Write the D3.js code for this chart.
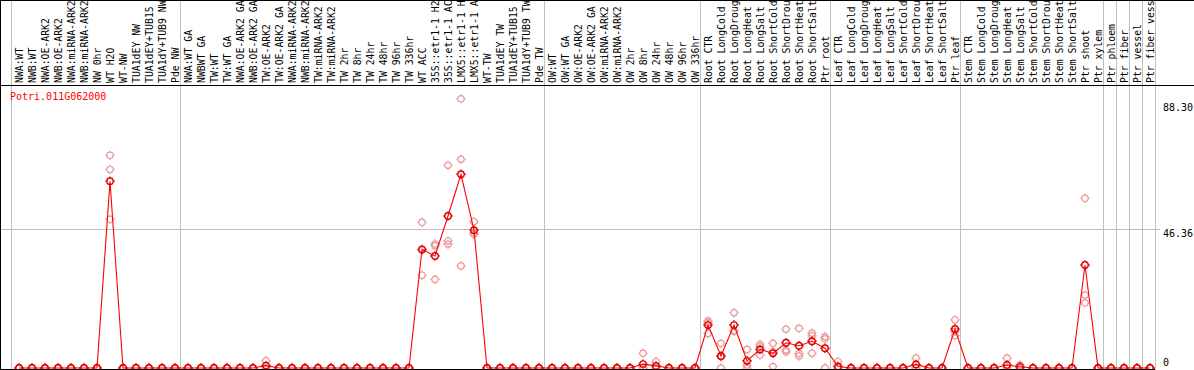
<!DOCTYPE html>
<meta charset="utf-8">

<!-- Load d3.js -->
<script src="https://d3js.org/d3.v7.min.js"></script>

<style>
  body { margin: 0; background: #fff; }
  svg text { font-family: "DejaVu Sans Mono", monospace; font-size: 10px; }
</style>

<div id="my_dataviz"></div>
<script>
  // gene shown
  const geneName = "Potri.011G062000";

  // sample names, left to right
  const samples = [
    "NWA:WT", "NWB:WT", "NWA:OE-ARK2", "NWB:OE-ARK2", "NWA:miRNA-ARK2", "NWB:miRNA-ARK2",
    "NW 0hr", "WT H2O", "WT-NW", "TUA1dEY NW", "TUA1dEY+TUB15 NW", "TUA1dY+TUB9 NW", "Pde NW",
    "NWA:WT GA", "NWBWT GA", "TW:WT", "TW:WT GA", "NWA:OE-ARK2 GA", "NWB:OE-ARK2 GA",
    "TW:OE-ARK2", "TW:OE-ARK2 GA", "NWA:miRNA-ARK2 GA", "NWB:miRNA-ARK2 GA", "TW:miRNA-ARK2",
    "TW:miRNA-ARK2 GA", "TW 2hr", "TW 8hr", "TW 24hr", "TW 48hr", "TW 96hr", "TW 336hr",
    "WT ACC", "35S::etr1-1 H2O", "35S::etr1-1 ACC", "LMX5::etr1-1 H2O", "LMX5::etr1-1 ACC",
    "WT-TW", "TUA1dEY TW", "TUA1dEY+TUB15 TW", "TUA1dY+TUB9 TW", "Pde TW",
    "OW:WT", "OW:WT GA", "OW:OE-ARK2", "OW:OE-ARK2 GA", "OW:miRNA-ARK2", "OW:miRNA-ARK2 GA",
    "OW 2hr", "OW 8hr", "OW 24hr", "OW 48hr", "OW 96hr", "OW 336hr",
    "Root CTR", "Root LongCold", "Root LongDrought", "Root LongHeat", "Root LongSalt",
    "Root ShortCold", "Root ShortDrought", "Root ShortHeat", "Root ShortSalt", "Ptr root",
    "Leaf CTR", "Leaf LongCold", "Leaf LongDrought", "Leaf LongHeat", "Leaf LongSalt",
    "Leaf ShortCold", "Leaf ShortDrought", "Leaf ShortHeat", "Leaf ShortSalt", "Ptr leaf",
    "Stem CTR", "Stem LongCold", "Stem LongDrought", "Stem LongHeat", "Stem LongSalt",
    "Stem ShortCold", "Stem ShortDrought", "Stem ShortHeat", "Stem ShortSalt", "Ptr shoot", "Ptr xylem",
    "Ptr phloem", "Ptr fiber", "Ptr vessel", "Ptr fiber vessel"
  ];

  // how many samples in each experiment block
  const groupSizes = [13, 28, 12, 10, 10, 11, 1, 1, 1, 1];

  // mean expression per sample
  const means = [
    0, 0, 0, 0, 0, 0, 0, 62.2, 0, 0, 0, 0, 0,
    0, 0, 0, 0, 0, 0, 0.8, 0, 0, 0, 0, 0, 0, 0, 0, 0, 0, 0,
    39.5, 37.3, 50.6, 64.5, 45.9, 0, 0, 0, 0, 0,
    0, 0, 0, 0, 0, 0, 0, 1.3, 0.7, 0, 0, 0,
    14.3, 4.0, 14.3, 2.4, 6.2, 4.9, 8.4, 7.4, 8.9, 6.6,
    0.5, 0, 0, 0, 0, 0, 1.2, 0, 0, 13.0,
    0, 0, 0, 1.0, 0.4, 0, 0, 0, 0, 34.3, 0,
    0, 0, 0, 0
  ];

  // replicates
  const rep1 = [
    0, 0, 0, 0, 0, 0, 0, 70.8, 0, 0, 0, 0, 0,
    0, 0, 0, 0, 0, 0, 2.4, 0, 0, 0, 0, 0, 0, 0, 0, 0, 0, 0,
    48.5, 41.3, 67.5, 89.6, 48.7, 0, 0, 0, 0, 0,
    0, 0, 0, 0, 0, 0, 0, 4.9, 2.1, 0, 0, 0,
    15.7, 8.2, 18.4, 6.2, 7.9, 8.2, 12.9, 13.2, 11.6, 10.4,
    2.1, 0, 0, 0, 0, 0, 3.3, 0, 0, 16.0,
    0, 0, 0, 3.3, 1.0, 0, 0, 0, 0, 56.5, 0,
    0, 0, 0, 0
  ];
  const rep2 = [
    0, 0, 0, 0, 0, 0, 0, 66.1, 0, 0, 0, 0, 0,
    0, 0, 0, 0, 0, 0, 0, 0, 0, 0, 0, 0, 0, 0, 0, 0, 0, 0,
    39.2, 40.7, 42.3, 69.5, 45.0, 0, 0, 0, 0, 0,
    0, 0, 0, 0, 0, 0, 0, 0, 0, 0, 0, 0,
    15.1, 3.8, 12.4, 1.0, 7.1, 5.4, 6.0, 4.9, 10.7, 9.7,
    0, 0, 0, 0, 0, 0, 0, 0, 0, 12.2,
    0, 0, 0, 0, 0, 0, 0, 0, 0, 24.3, 0,
    0, 0, 0, 0
  ];
  const rep3 = [
    0, 0, 0, 0, 0, 0, 0, 49.5, 0, 0, 0, 0, 0,
    0, 0, 0, 0, 0, 0, 0, 0, 0, 0, 0, 0, 0, 0, 0, 0, 0, 0,
    30.9, 29.5, 41.2, 34.0, 44.5, 0, 0, 0, 0, 0,
    0, 0, 0, 0, 0, 0, 0, 0, 0, 0, 0, 0,
    11.5, 0, 12.2, 0, 4.3, 0.5, 5.4, 4.0, 4.9, 0,
    0, 0, 0, 0, 0, 0, 0, 0, 0, 10.8,
    0, 0, 0, 0, 0, 0, 0, 0, 0, 21.7, 0,
    0, 0, 0, 0
  ];

  // y axis
  const yMax = 92.72;
  const tickValues = [0, 46.36, 88.30];
  const tickLabels = ["0", "46.36", "88.30"];

  const width = 1194, height = 370;
  const headerBottom = 85;
  const maxChars = 14; // header labels are cut to this length

  const svg = d3.select("#my_dataviz")
    .append("svg")
    .attr("width", width)
    .attr("height", height);

  const x = d3.scaleLinear()
    .domain([0, samples.length - 1])
    .range([19, 1150]);

  const y = d3.scaleLinear()
    .domain([0, yMax])
    .range([368, 89.5]);

  // block separators (gray verticals)
  const starts = [0];
  groupSizes.forEach(n => starts.push(starts[starts.length - 1] + n));
  svg.selectAll(".sep")
    .data(starts)
    .join("line")
    .attr("class", "sep")
    .attr("x1", d => Math.round(x(d) - 8) + 0.5)
    .attr("x2", d => Math.round(x(d) - 8) + 0.5)
    .attr("y1", 0)
    .attr("y2", height)
    .attr("stroke", "#c0c0c0");

  // mid grid line
  svg.append("line")
    .attr("x1", 0)
    .attr("x2", 1160)
    .attr("y1", Math.round(y(tickValues[1])) + 0.5)
    .attr("y2", Math.round(y(tickValues[1])) + 0.5)
    .attr("stroke", "#c0c0c0");

  // frame lines
  svg.append("line").attr("x1", 0).attr("x2", width).attr("y1", 0.5).attr("y2", 0.5).attr("stroke", "black");
  svg.append("line").attr("x1", 0).attr("x2", width).attr("y1", headerBottom + 0.5).attr("y2", headerBottom + 0.5).attr("stroke", "black");
  svg.append("line").attr("x1", 0.5).attr("x2", 0.5).attr("y1", 0).attr("y2", height).attr("stroke", "black");

  // sample labels, rotated
  svg.selectAll(".lab")
    .data(samples)
    .join("text")
    .attr("class", "lab")
    .attr("transform", (d, i) => `translate(${x(i) + 3.5},${headerBottom - 2}) rotate(-90)`)
    .attr("fill", "black")
    .style("font-size", "9.8px")
    .text(d => d.slice(0, maxChars));

  // gene name
  svg.append("text")
    .attr("x", 10)
    .attr("y", 100)
    .attr("fill", "red")
    .text(geneName);

  // y tick labels on the right
  svg.selectAll(".ytick")
    .data(tickValues)
    .join("text")
    .attr("class", "ytick")
    .attr("x", 1163)
    .attr("y", d => d === 0 ? y(d) - 2.5 : y(d) + 8)
    .attr("fill", "black")
    .text((d, i) => tickLabels[i]);

  // marker: ring with four small ticks
  const marker = r => `M${-r},0a${r},${r} 0 1,0 ${2 * r},0a${r},${r} 0 1,0 ${-2 * r},0` +
    `M0,${-r}v-1.5M0,${r}v1.5M${-r},0h-1.5M${r},0h1.5`;

  // replicate points
  const reps = [];
  [rep1, rep2, rep3].forEach(arr => arr.forEach((v, i) => reps.push({ i: i, v: v })));
  svg.selectAll(".rep")
    .data(reps)
    .join("path")
    .attr("class", "rep")
    .attr("transform", d => `translate(${x(d.i)},${y(d.v)})`)
    .attr("d", marker(3.2))
    .attr("fill", "none")
    .attr("stroke", "#eb9a9a")
    .attr("stroke-width", 1.2);

  // mean line
  svg.append("path")
    .datum(means)
    .attr("fill", "none")
    .attr("stroke", "#ff0000")
    .attr("stroke-width", 1.1)
    .attr("d", d3.line()
      .x((d, i) => x(i))
      .y(d => y(d)));

  // mean points
  svg.selectAll(".mean")
    .data(means)
    .join("path")
    .attr("class", "mean")
    .attr("transform", (d, i) => `translate(${x(i)},${y(d)})`)
    .attr("d", marker(3.2))
    .attr("fill", "none")
    .attr("stroke", "#e00000")
    .attr("stroke-width", 1.4);

  // baseline
  svg.append("line")
    .attr("x1", 0)
    .attr("x2", 1155)
    .attr("y1", 369.5)
    .attr("y2", 369.5)
    .attr("stroke", "black");
</script>
